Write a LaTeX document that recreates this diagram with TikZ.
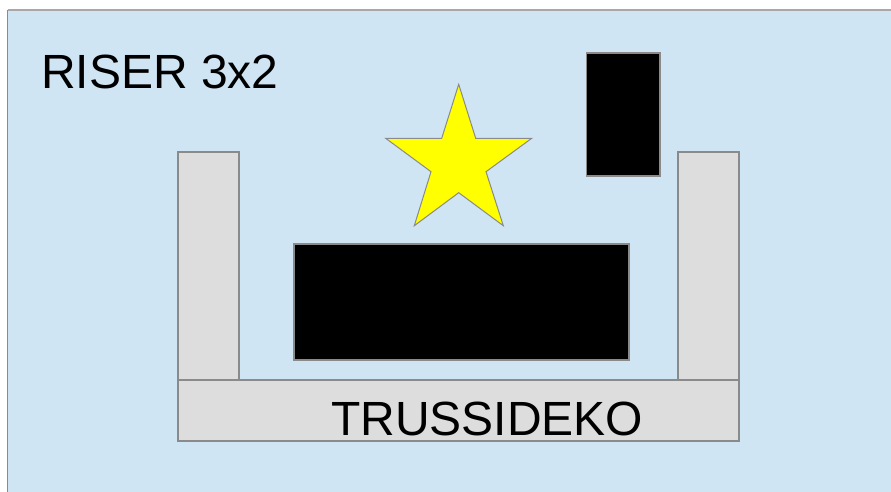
\documentclass[tikz,border=0pt]{standalone}
\usepackage{fontspec}
\setmainfont{Liberation Sans}
\definecolor{bgblue}{HTML}{CFE5F3}
\definecolor{boxgrey}{HTML}{DDDDDD}
\definecolor{edgegrey}{HTML}{8A8A8A}
\definecolor{topgrey}{HTML}{A8A8A8}
\definecolor{staryellow}{RGB}{255,255,0}
\tikzset{
  trussbox/.style={fill=boxgrey, draw=edgegrey, line width=1.2pt},
  blackbox/.style={fill=black, draw=edgegrey, line width=1.2pt},
  label/.style={font=\fontsize{48}{50}\selectfont, inner sep=0pt, text=black}
}
\begin{document}
\begin{tikzpicture}[x=1pt,y=-1pt]
\useasboundingbox (0,0) rectangle (891,491);
\fill[white] (0,0) rectangle (891,491);
\fill[bgblue] (7.5,10) rectangle (895,495);
\draw[topgrey, line width=1.5pt] (7.5,10) -- (895,10);
\draw[edgegrey, line width=1.5pt] (7.5,10) -- (7.5,495);
% truss
\draw[trussbox] (178,152) rectangle (239,380);
\draw[trussbox] (678,152) rectangle (739,380);
\draw[trussbox] (178,380) rectangle (739,441);
% black boxes
\draw[blackbox] (294,244) rectangle (629,360);
\draw[blackbox] (586.5,53) rectangle (660,176);
% star
\draw[fill=staryellow, draw=edgegrey, line width=1pt]
  (458.7,84.3) -- (475.7,138.3) -- (531.7,138.3) -- (486,171.7) -- (503.3,225.7)
  -- (458.7,192.7) -- (414.3,225.7) -- (431,171.7) -- (385.7,138.3) -- (441.7,138.3) -- cycle;
% texts
\node[label, anchor=base west] (riser) at (41,88) {RISER 3x2};
\node[label, anchor=base west] (truss) at (331,435) {TRUSSIDEKO};
\end{tikzpicture}
\end{document}
